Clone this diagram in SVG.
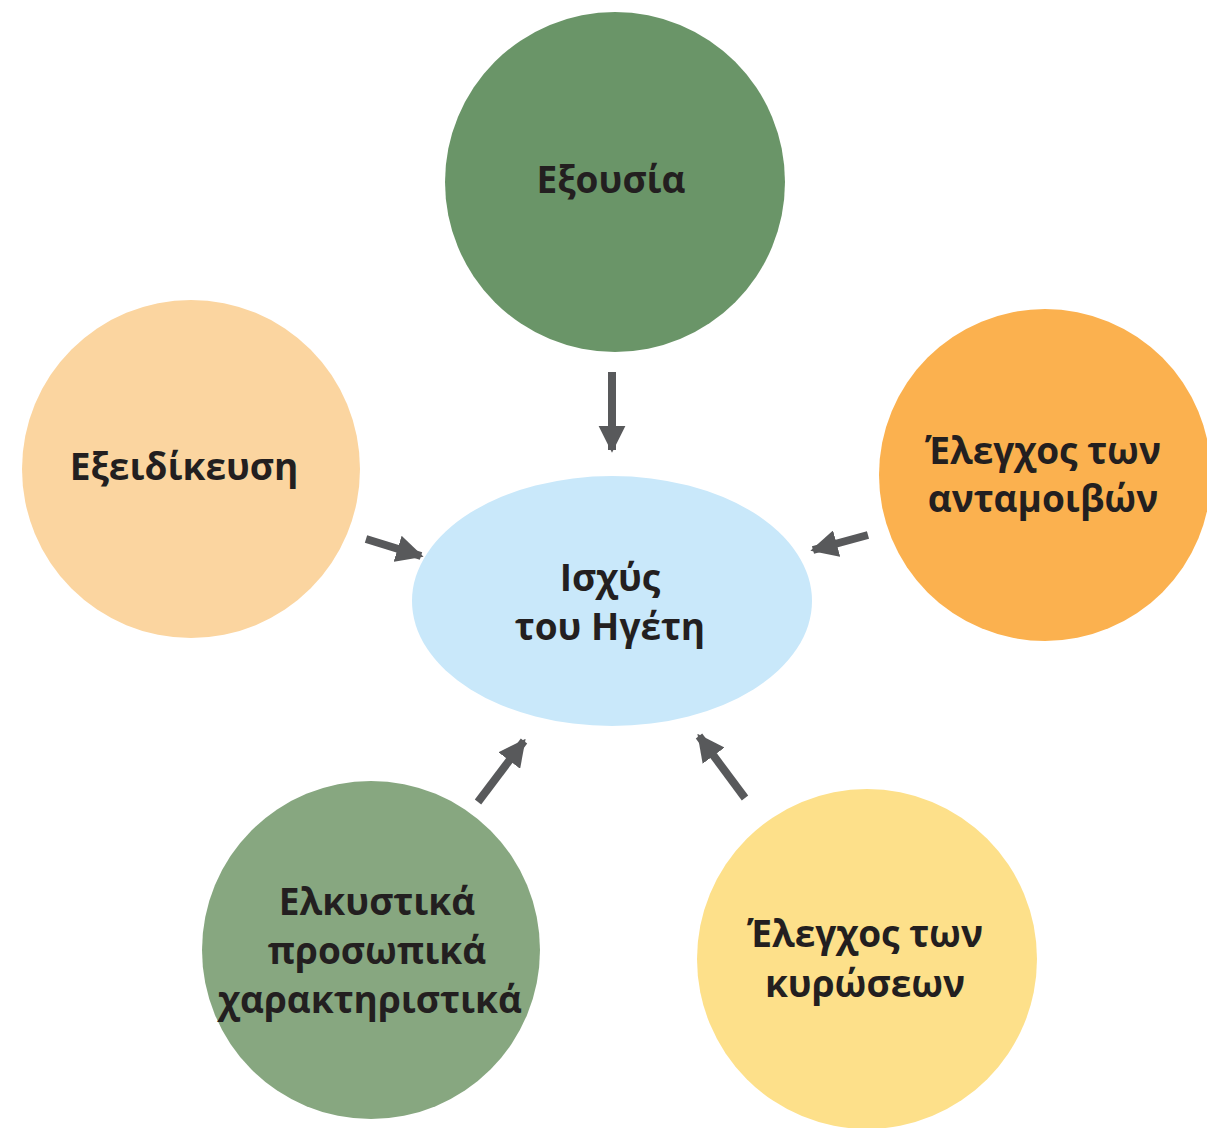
<svg xmlns="http://www.w3.org/2000/svg" width="1207" height="1128" viewBox="0 0 1207 1128">
<defs>
<style>
.t{font-family:"Open Sans","Noto Sans","DejaVu Sans",sans-serif;font-weight:700;font-size:37px;fill:#231f20;text-anchor:middle}
.c{stroke:#58595b;stroke-width:8;fill:none}
</style>
<marker id="ah" viewBox="0 0 10 10" refX="9" refY="5" markerWidth="3.4" markerHeight="3.4" orient="auto" markerUnits="strokeWidth">
<path d="M0,0 L10,5 L0,10 z" fill="#58595b"/>
</marker>
</defs>
<rect width="1207" height="1128" fill="#ffffff"/>
<g id="connectors">
<line class="c" x1="612" y1="372" x2="612" y2="450" marker-end="url(#ah)"/>
<line class="c" x1="366" y1="539" x2="421" y2="556" marker-end="url(#ah)"/>
<line class="c" x1="868" y1="535" x2="813" y2="550" marker-end="url(#ah)"/>
<line class="c" x1="478" y1="802" x2="524" y2="741" marker-end="url(#ah)"/>
<line class="c" x1="745" y1="798" x2="699" y2="736" marker-end="url(#ah)"/>
</g>
<g id="node-exousia">
<circle cx="615" cy="182" r="170" fill="#6a9568"/>
<text class="t" x="611" y="193">Εξουσία</text>
</g>
<g id="node-exeidikeusi">
<circle cx="191" cy="469" r="169" fill="#fbd5a0"/>
<text class="t" x="184" y="480">Εξειδίκευση</text>
</g>
<g id="node-antamoivon">
<circle cx="1045" cy="475" r="166" fill="#fbb14f"/>
<text class="t" x="1043" y="464">Έλεγχος των</text>
<text class="t" x="1043" y="512">ανταμοιβών</text>
</g>
<g id="node-center">
<ellipse cx="612" cy="601" rx="200" ry="125" fill="#c9e8fa"/>
<text class="t" x="610" y="591">Ισχύς</text>
<text class="t" x="610" y="640">του Ηγέτη</text>
</g>
<g id="node-elkystika">
<circle cx="371" cy="950" r="169" fill="#87a780"/>
<text class="t" x="377" y="915">Ελκυστικά</text>
<text class="t" x="377" y="964">προσωπικά</text>
<text class="t" x="370" y="1013">χαρακτηριστικά</text>
</g>
<g id="node-kyroseon">
<circle cx="867" cy="959" r="170" fill="#fde08a"/>
<text class="t" x="865" y="947">Έλεγχος των</text>
<text class="t" x="865" y="997">κυρώσεων</text>
</g>
</svg>
